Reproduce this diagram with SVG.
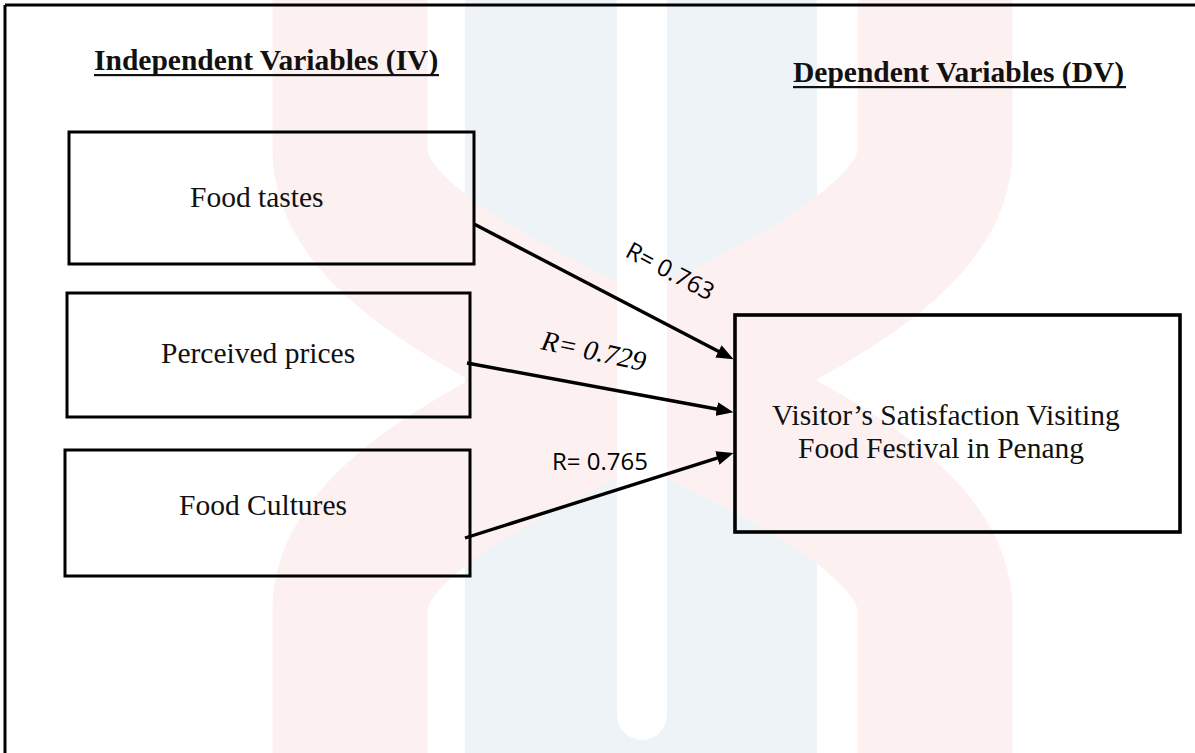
<svg xmlns="http://www.w3.org/2000/svg" width="1195" height="753" viewBox="0 0 1195 753">
<style>
.box{fill:none;stroke:#000;stroke-width:3}
.dv{fill:none;stroke:#000;stroke-width:3.6}
.t{font-family:"Liberation Serif","Times New Roman",serif;font-size:29.5px;fill:#111}
.h{font-family:"Liberation Serif","Times New Roman",serif;font-size:29.5px;font-weight:bold;fill:#111}
.r{font-family:"Open Sans","Liberation Sans",sans-serif;font-size:24px;fill:#000}
.ri{font-family:"Liberation Serif","Times New Roman",serif;font-size:28px;font-style:italic;fill:#000}
.con{stroke:#000;stroke-width:3.4;fill:none}
.band{fill:none;stroke:#fdf0f0;stroke-width:155}
</style>
<defs>
<marker id="ah" viewBox="0 0 17 14" refX="8" refY="7" markerWidth="17" markerHeight="14" markerUnits="userSpaceOnUse" orient="auto">
<path d="M0,0 L17,7 L0,14 z" fill="#000"/>
</marker>
</defs>
<rect width="1195" height="753" fill="#fff"/>
<g id="watermark">
<rect x="465" y="0" width="352" height="753" fill="#eef3f8"/>
<path class="band" d="M350,-20 V150 C350,330 935,430 935,610 V780"/>
<path class="band" d="M935,-20 V150 C935,330 350,430 350,610 V780"/>
<rect x="617" y="-30" width="50" height="770" rx="25" fill="#fff"/>
</g>
<g id="frame">
<path d="M5,5 H1195 M5,5 V753" stroke="#000" stroke-width="3" fill="none"/>
</g>
<g id="title-iv">
<text class="h" x="94" y="70">Independent Variables (IV)</text>
<rect x="94" y="74" width="345" height="2.2" fill="#111"/>
</g>
<g id="title-dv">
<text class="h" x="793" y="82">Dependent Variables (DV)</text>
<rect x="793" y="86" width="333" height="2.2" fill="#111"/>
</g>
<g id="food-tastes">
<rect class="box" x="69" y="132" width="405" height="132"/>
<text class="t" x="190" y="206.5">Food tastes</text>
</g>
<g id="perceived-prices">
<rect class="box" x="67" y="293" width="403" height="124"/>
<text class="t" x="161" y="363">Perceived prices</text>
</g>
<g id="food-cultures">
<rect class="box" x="65" y="450" width="405" height="126"/>
<text class="t" x="179" y="515">Food Cultures</text>
</g>
<g id="visitor-satisfaction">
<rect class="dv" x="735" y="315" width="445" height="217"/>
<text class="t" x="772" y="425">Visitor’s Satisfaction Visiting</text>
<text class="t" x="798" y="458">Food Festival in Penang</text>
</g>
<g id="connectors">
<line class="con" x1="474" y1="224" x2="725.5" y2="355.1" marker-end="url(#ah)"/>
<line class="con" x1="467" y1="363" x2="724.6" y2="410.5" marker-end="url(#ah)"/>
<line class="con" x1="465" y1="538" x2="724.9" y2="455.6" marker-end="url(#ah)"/>
<text class="r" transform="translate(624,256) rotate(28)">R= 0.763</text>
<text class="ri" transform="translate(540,349) rotate(12)">R= 0.729</text>
<text class="r" x="552" y="469.5">R= 0.765</text>
</g>
</svg>
